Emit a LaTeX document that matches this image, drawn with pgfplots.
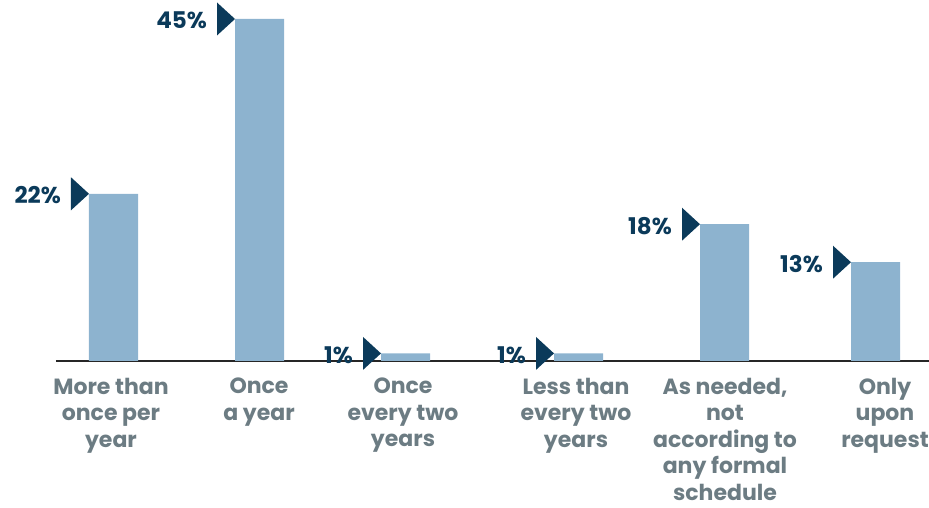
\documentclass[border=0pt]{standalone}
\usepackage{fontspec}
\setmainfont{Poppins}
\usepackage{pgfplots}
\pgfplotsset{compat=1.18}
\definecolor{barblue}{HTML}{8DB3CF}
\definecolor{navy}{HTML}{0B3A5A}
\definecolor{labgray}{HTML}{6C7C83}
\pgfdeclareplotmark{flag}{%
  \pgfpathmoveto{\pgfpoint{-24.5pt}{0pt}}%
  \pgfpathlineto{\pgfpoint{-42.5pt}{16.5pt}}%
  \pgfpathlineto{\pgfpoint{-42.5pt}{-16.5pt}}%
  \pgfpathclose\pgfusepathqfill}
\begin{document}
\begin{tikzpicture}
\begin{axis}[
  at={(0,0)}, anchor=south west,
  x=1pt, y=7.6pt,
  xmin=56, xmax=929, ymin=0, ymax=45,
  clip=false,
  hide y axis,
  axis x line*=bottom,
  x axis line style={color=black!85, line width=1.2pt},
  xtick={111,259,403,576,725,885},
  xticklabels={More than\\once per\\year, Once\\a year, Once\\every two\\years, Less than\\every two\\years, {As needed,\\not\\according to\\any formal\\schedule}, Only\\upon\\request},
  xtick style={draw=none},
  xticklabel style={align=center, anchor=north, inner sep=0pt, yshift=-17pt, text=labgray, font=\fontsize{22}{26.5}\selectfont\bfseries},
  /pgf/number format/assume math mode=true,
]
\addplot[ybar, bar width=49pt, fill=barblue, draw=none] coordinates {(113.5,22) (259.5,45) (405.5,1) (578.5,1) (724.5,18) (875.5,13)};
\addplot[only marks, mark=flag, mark options={fill=navy, draw=none},
  point meta=y,
  nodes near coords={\pgfmathprintnumber[fixed,precision=0,assume math mode=true]{\pgfplotspointmeta}\%},
  every node near coord/.append style={anchor=east, xshift=-52.5pt, yshift=-1.5pt, inner sep=0pt, text=navy, font=\fontsize{23}{26}\selectfont\bfseries}]
  coordinates {(113.5,22) (259.5,45) (405.5,1) (578.5,1) (724.5,18) (875.5,13)};
\end{axis}
\pgfresetboundingbox
\path[use as bounding box] (-56pt,-147pt) rectangle (873pt,361pt);
\end{tikzpicture}
\end{document}
